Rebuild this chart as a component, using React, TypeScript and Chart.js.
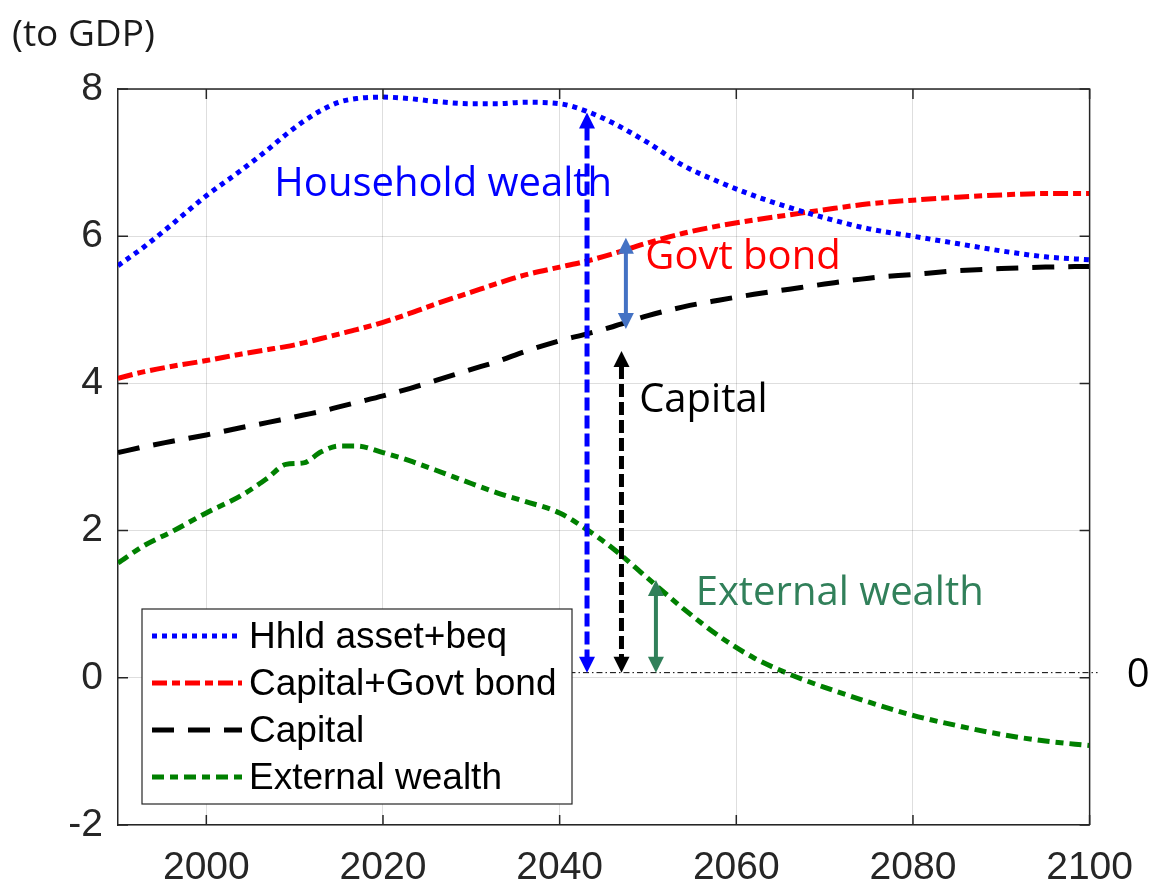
import { useEffect, useRef } from "react";
import { Chart, registerables } from "chart.js";

Chart.register(...registerables);

// ---- data ----
const years = [1990, 1993, 1996, 2000, 2004, 2007, 2009, 2011, 2013, 2015, 2017, 2020, 2023, 2026, 2030, 2033, 2036, 2040, 2043, 2046, 2050, 2054, 2058, 2062, 2066, 2070, 2075, 2080, 2085, 2090, 2095, 2100];
const householdWealth = [5.60, 5.86, 6.15, 6.55, 6.90, 7.18, 7.38, 7.56, 7.71, 7.82, 7.87, 7.89, 7.87, 7.83, 7.80, 7.80, 7.82, 7.80, 7.70, 7.54, 7.27, 6.96, 6.74, 6.55, 6.39, 6.25, 6.10, 6.00, 5.90, 5.80, 5.72, 5.68];
const capitalPlusGovtBond = [4.07, 4.16, 4.23, 4.31, 4.40, 4.46, 4.50, 4.55, 4.61, 4.67, 4.73, 4.83, 4.95, 5.08, 5.24, 5.36, 5.47, 5.58, 5.66, 5.76, 5.91, 6.04, 6.14, 6.22, 6.29, 6.36, 6.44, 6.49, 6.53, 6.56, 6.58, 6.58];
const capitalStock = [3.06, 3.14, 3.21, 3.30, 3.40, 3.47, 3.52, 3.57, 3.62, 3.68, 3.74, 3.83, 3.93, 4.04, 4.19, 4.30, 4.43, 4.58, 4.67, 4.77, 4.92, 5.04, 5.13, 5.21, 5.28, 5.35, 5.43, 5.48, 5.53, 5.56, 5.58, 5.59];
const externalWealth = [1.56, 1.80, 1.98, 2.24, 2.48, 2.72, 2.90, 2.92, 3.07, 3.15, 3.15, 3.06, 2.95, 2.82, 2.64, 2.51, 2.40, 2.24, 2.02, 1.76, 1.35, 0.94, 0.57, 0.27, 0.05, -0.13, -0.33, -0.51, -0.65, -0.77, -0.86, -0.92];

const seriesLabels = ["Hhld asset+beq", "Capital+Govt bond", "Capital", "External wealth"];
const xTickValues = [2000, 2020, 2040, 2060, 2080, 2100];
const yTickValues = [-2, 0, 2, 4, 6, 8];

// annotation arrows (year, from value, to value)
const arrowYears = [2043.1, 2047.0, 2050.9, 2047.5];
const arrowFrom = [0.07, 0.07, 0.07, 4.74];
const arrowTo = [7.68, 4.44, 1.33, 5.98];
const zeroRefLevel = 0.07;
const zeroRefStartYear = 2035;
const zeroRefEndYear = 2100.9;

// text annotations (label, year, value)
const noteLabels = ["Household wealth", "Govt bond", "Capital", "External wealth", "0"];
const noteYears = [2007.7, 2049.7, 2049.0, 2055.4, 2104.2];
const noteValues = [6.55, 5.55, 3.61, 0.99, -0.13];

// ---- styles ----
const seriesColors = ["#0000FF", "#FF0000", "#000000", "#008000"];
const seriesDash = [[5, 5], [15, 5, 8, 5], [22, 14], [12, 6, 8, 6]];
const seriesWidth = [5, 5, 5, 5];
const arrowColors = ["#0000FF", "#000000", "#31805A", "#4472C4"];
const arrowDash = [[13, 5], [13, 5], [], []];
const arrowWidth = [5, 5, 4, 4];
const noteColors = ["#0000FF", "#FF0000", "#000000", "#31805A", "#000000"];

const NOTE_FONT = '40px "Open Sans"';
const TICK_FONT_FAMILY = '"Liberation Sans", Arial, sans-serif';
const AXIS_COLOR = "#262626";

function drawArrow(ctx: CanvasRenderingContext2D, x: number, yTop: number, yBottom: number, color: string, width: number, dash: number[]) {
  const hl = 16;
  const hw = 8;
  ctx.save();
  ctx.strokeStyle = color;
  ctx.fillStyle = color;
  ctx.lineWidth = width;
  ctx.setLineDash(dash);
  ctx.beginPath();
  ctx.moveTo(x, yTop + hl - 1);
  ctx.lineTo(x, yBottom - hl + 1);
  ctx.stroke();
  ctx.setLineDash([]);
  ctx.beginPath();
  ctx.moveTo(x, yTop);
  ctx.lineTo(x - hw, yTop + hl);
  ctx.lineTo(x + hw, yTop + hl);
  ctx.closePath();
  ctx.fill();
  ctx.beginPath();
  ctx.moveTo(x, yBottom);
  ctx.lineTo(x - hw, yBottom - hl);
  ctx.lineTo(x + hw, yBottom - hl);
  ctx.closePath();
  ctx.fill();
  ctx.restore();
}

const overlayPlugin = {
  id: "overlay",
  afterDatasetsDraw(chart: any) {
    const ctx: CanvasRenderingContext2D = chart.ctx;
    const xs = chart.scales.x;
    const ys = chart.scales.y;
    const area = chart.chartArea;

    // box border (top/right) and inward ticks
    ctx.save();
    ctx.strokeStyle = AXIS_COLOR;
    ctx.lineWidth = 1.5;
    ctx.beginPath();
    ctx.moveTo(area.left, area.top);
    ctx.lineTo(area.right, area.top);
    ctx.lineTo(area.right, area.bottom);
    ctx.stroke();
    const tl = 10;
    ctx.beginPath();
    xTickValues.forEach((v) => {
      const px = xs.getPixelForValue(v);
      ctx.moveTo(px, area.bottom);
      ctx.lineTo(px, area.bottom - tl);
      ctx.moveTo(px, area.top);
      ctx.lineTo(px, area.top + tl);
    });
    yTickValues.forEach((v) => {
      const py = ys.getPixelForValue(v);
      ctx.moveTo(area.left, py);
      ctx.lineTo(area.left + tl, py);
      ctx.moveTo(area.right, py);
      ctx.lineTo(area.right - tl, py);
    });
    ctx.stroke();
    ctx.restore();

    // zero reference dash-dot line
    ctx.save();
    ctx.strokeStyle = "#000000";
    ctx.lineWidth = 1;
    ctx.setLineDash([6, 3, 1.5, 3]);
    const zy = ys.getPixelForValue(zeroRefLevel);
    ctx.beginPath();
    ctx.moveTo(xs.getPixelForValue(zeroRefStartYear), zy);
    ctx.lineTo(xs.getPixelForValue(zeroRefEndYear), zy);
    ctx.stroke();
    ctx.restore();

    // arrows
    arrowYears.forEach((yr, i) => {
      const x = xs.getPixelForValue(yr);
      const a = ys.getPixelForValue(arrowTo[i]);
      const b = ys.getPixelForValue(arrowFrom[i]);
      drawArrow(ctx, x, Math.min(a, b), Math.max(a, b), arrowColors[i], arrowWidth[i], arrowDash[i]);
    });

    // text notes
    ctx.save();
    ctx.font = NOTE_FONT;
    ctx.textAlign = "left";
    ctx.textBaseline = "alphabetic";
    noteLabels.forEach((t, i) => {
      ctx.fillStyle = noteColors[i];
      ctx.fillText(t, xs.getPixelForValue(noteYears[i]), ys.getPixelForValue(noteValues[i]));
    });
    ctx.restore();

    // y-axis unit title
    ctx.save();
    ctx.font = '37px "Open Sans"';
    ctx.fillStyle = "#1a1a1a";
    ctx.textBaseline = "alphabetic";
    ctx.fillText("(to GDP)", 12, 46);
    ctx.restore();

    // legend box
    const lx = area.left + 24;
    const lw = 430;
    const lh = 195;
    const ly = area.bottom - 21 - lh;
    ctx.save();
    ctx.fillStyle = "#ffffff";
    ctx.fillRect(lx, ly, lw, lh);
    ctx.strokeStyle = AXIS_COLOR;
    ctx.lineWidth = 1.2;
    ctx.strokeRect(lx, ly, lw, lh);
    ctx.font = "37px " + TICK_FONT_FAMILY;
    ctx.textBaseline = "middle";
    ctx.textAlign = "left";
    seriesLabels.forEach((lab, i) => {
      const ry = ly + 27 + i * 47;
      ctx.strokeStyle = seriesColors[i];
      ctx.lineWidth = seriesWidth[i];
      ctx.setLineDash(seriesDash[i]);
      ctx.beginPath();
      ctx.moveTo(lx + 10, ry);
      ctx.lineTo(lx + 100, ry);
      ctx.stroke();
      ctx.setLineDash([]);
      ctx.fillStyle = "#000000";
      ctx.fillText(lab, lx + 107, ry + 2);
    });
    ctx.restore();
  },
};

export default function App() {
  const canvasRef = useRef<HTMLCanvasElement | null>(null);

  useEffect(() => {
    const canvas = canvasRef.current;
    if (!canvas) return;
    const seriesData = [householdWealth, capitalPlusGovtBond, capitalStock, externalWealth];
    const chart = new Chart(canvas, {
      type: "line",
      data: {
        datasets: seriesData.map((vals, i) => ({
          label: seriesLabels[i],
          data: years.map((yr, j) => ({ x: yr, y: vals[j] })),
          borderColor: seriesColors[i],
          borderWidth: seriesWidth[i],
          borderDash: seriesDash[i],
          borderCapStyle: "butt" as const,
          pointRadius: 0,
          fill: false,
          cubicInterpolationMode: "monotone" as const,
        })),
      },
      options: {
        responsive: false,
        animation: false,
        devicePixelRatio: 1,
        layout: { padding: { top: 89, right: 61, left: 0, bottom: 0 } },
        plugins: { legend: { display: false }, tooltip: { enabled: false }, title: { display: false } },
        scales: {
          x: {
            type: "linear",
            min: 1990,
            max: 2100,
            afterBuildTicks: (s: any) => {
              s.ticks = xTickValues.map((v) => ({ value: v }));
            },
            afterFit: (s: any) => {
              s.height = 60;
            },
            grid: { color: "rgba(0,0,0,0.13)", lineWidth: 1, drawTicks: false },
            border: { display: true, color: AXIS_COLOR, width: 1.5 },
            ticks: {
              font: { family: TICK_FONT_FAMILY, size: 39 },
              color: AXIS_COLOR,
              padding: 20,
              maxRotation: 0,
              autoSkip: false,
              callback: (v: any) => String(v),
            },
          },
          y: {
            type: "linear",
            min: -2,
            max: 8,
            afterBuildTicks: (s: any) => {
              s.ticks = yTickValues.map((v) => ({ value: v }));
            },
            afterFit: (s: any) => {
              s.width = 118;
            },
            grid: { color: "rgba(0,0,0,0.13)", lineWidth: 1, drawTicks: false },
            border: { display: true, color: AXIS_COLOR, width: 1.5 },
            ticks: {
              font: { family: TICK_FONT_FAMILY, size: 39 },
              color: AXIS_COLOR,
              padding: 15,
              autoSkip: false,
              callback: (v: any) => String(v),
            },
          },
        },
      },
      plugins: [overlayPlugin],
    });
    return () => chart.destroy();
  }, []);

  return (
    <div style={{ position: "fixed", left: 0, top: 0, width: 1153, height: 885, background: "#ffffff" }}>
      <canvas ref={canvasRef} width={1153} height={885} style={{ display: "block" }} />
    </div>
  );
}
